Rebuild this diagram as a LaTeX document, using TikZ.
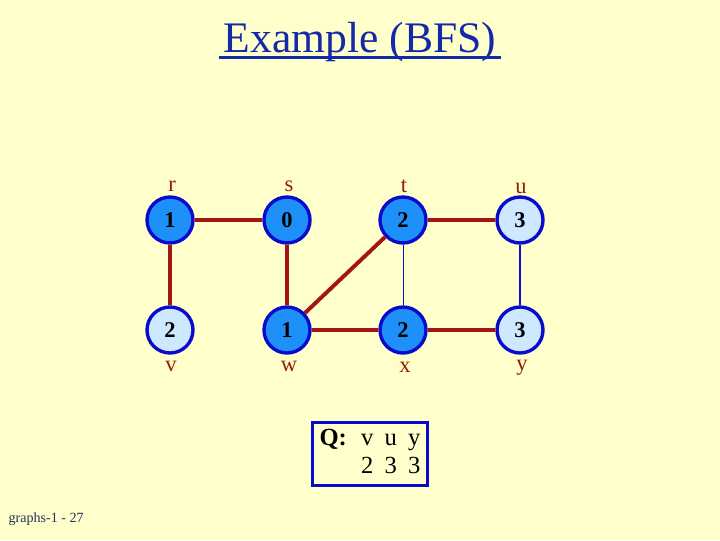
\documentclass[tikz,border=0pt]{standalone}
\usepackage{fontspec}
\setmainfont{Liberation Serif}

\definecolor{bgyellow}{RGB}{255,255,204}
\definecolor{nodeblue}{RGB}{30,144,250}
\definecolor{lightblue}{RGB}{206,232,255}
\definecolor{rimblue}{RGB}{10,10,205}
\definecolor{treered}{RGB}{165,20,20}
\definecolor{labelred}{RGB}{150,30,0}
\definecolor{titleblue}{RGB}{20,40,170}
\definecolor{footgray}{RGB}{40,50,90}

\tikzset{
  vert/.style={circle, draw=rimblue, line width=2.4pt, fill=nodeblue,
    minimum size=1.15cm, inner sep=0pt,
    font=\fontsize{16}{18}\selectfont\bfseries},
  vertnew/.style={vert, fill=lightblue},
  vname/.style={text=labelred, font=\fontsize{16}{18}\selectfont},
  treeedge/.style={draw=treered, line width=2.8pt},
  plainedge/.style={draw=rimblue},
}

\begin{document}
\begin{tikzpicture}[x=0.025cm, y=-0.025cm]
\useasboundingbox[fill=bgyellow] (0,0) rectangle (720,540);

% title
\node[text=titleblue, font=\fontsize{31}{34}\selectfont, anchor=base] (title) at (360,52) {Example (BFS)};
\draw[titleblue, line width=2pt] ([yshift=-4pt]title.base west) -- ([yshift=-4pt]title.base east);

% top row
\node[vert] (r) at (170,220) {1};
\node[vert] (s) at (287,220) {0};
\node[vert] (t) at (403,220) {2};
\node[vertnew] (u) at (520,220) {3};

% bottom row
\node[vertnew] (v) at (170,330) {2};
\node[vert] (w) at (287,330) {1};
\node[vert] (x) at (403,330) {2};
\node[vertnew] (y) at (520,330) {3};

% names
\node[vname] (lr) at (172,186) {r};
\node[vname] (ls) at (289,186) {s};
\node[vname] (lt) at (404,186) {t};
\node[vname] (lu) at (521,188) {u};
\node[vname] (lv) at (171,366) {v};
\node[vname] (lw) at (289,366) {w};
\node[vname] (lx) at (405,367) {x};
\node[vname] (ly) at (522,368) {y};

% edges
\draw[plainedge, line width=0.6pt] (t) -- (x);
\draw[plainedge, line width=1.2pt] (u) -- (y);
\draw[treeedge] (r) -- (s);
\draw[treeedge] (r) -- (v);
\draw[treeedge] (s) -- (w);
\draw[treeedge] (w) -- (t);
\draw[treeedge] (w) -- (x);
\draw[treeedge] (t) -- (u);
\draw[treeedge] (x) -- (y);

% queue
\node[draw=rimblue, line width=2.2pt, minimum width=2.875cm, minimum height=1.575cm,
  inner sep=0pt, font=\fontsize{17.5}{20}\selectfont] (queue) at (370,454)
{\begin{tabular}{@{}l@{\hspace{10pt}}c@{\hspace{8pt}}c@{\hspace{8pt}}c@{}}
\textbf{Q:} & v & u & y\\
 & 2 & 3 & 3
\end{tabular}};

% footer
\node[text=footgray, font=\fontsize{10}{11}\selectfont, anchor=west, inner sep=1pt] (foot) at (7,519) {graphs-1 - 27};

\end{tikzpicture}
\end{document}
